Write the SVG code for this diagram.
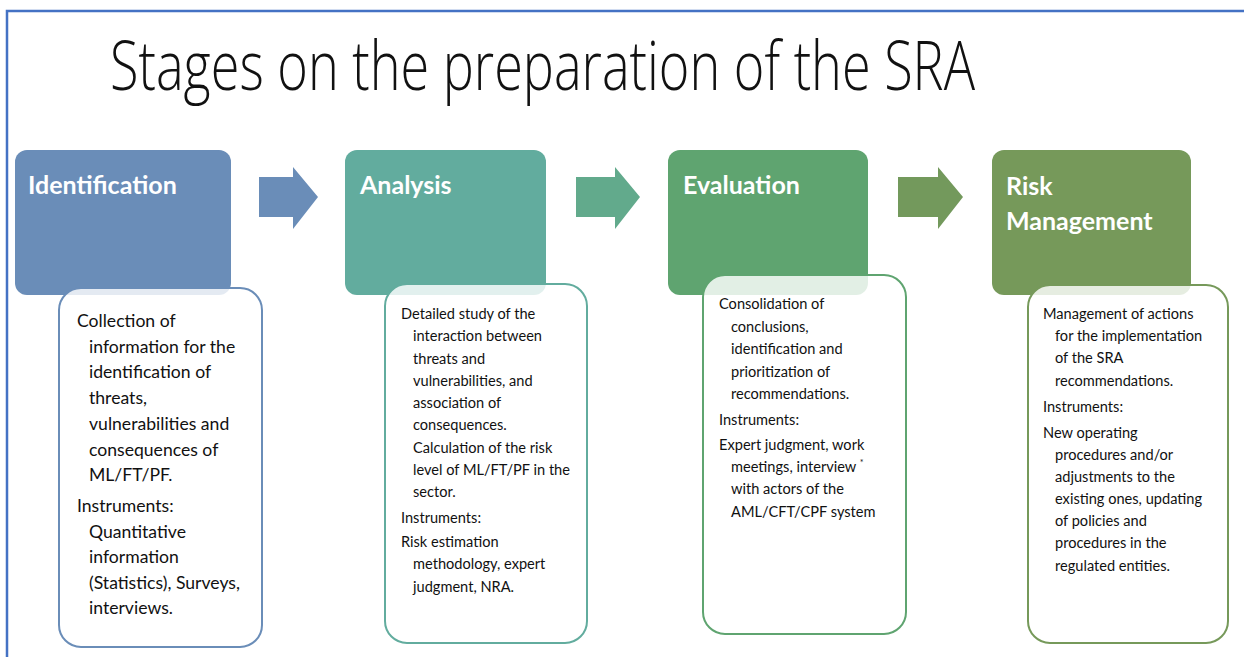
<svg xmlns="http://www.w3.org/2000/svg" width="1244" height="657" viewBox="0 0 1244 657">
  <style>
    .title { font-family: "Open Sans", "Liberation Sans", sans-serif; font-weight: 300; font-size: 68px; fill: #111; }
    .head { font-family: Lato, "Liberation Sans", sans-serif; font-weight: 700; font-size: 25px; fill: #ffffff; }
    .body { font-family: Lato, "Liberation Sans", sans-serif; font-size: 17.6px; fill: #111; }
    .small { font-family: Lato, "Liberation Sans", sans-serif; font-size: 14.6px; fill: #111; }
    .card { fill: #ffffff; fill-opacity: 0.82; stroke-width: 2; }
  </style>

  <!-- slide frame -->
  <path d="M7,657 V11 H1244" fill="none" stroke="#4472C4" stroke-width="2.5"/>

  <text class="title" x="110" y="90" textLength="865" lengthAdjust="spacingAndGlyphs">Stages on the preparation of the SRA</text>

  <!-- connectors between stages -->
  <g id="connectors">
    <path d="M259,177 H293 V167 L318,197 L293,229 V217 H259 Z" fill="#6A8DB8"/>
    <path d="M576,177 H615 V167 L640,197 L615,229 V217 H576 Z" fill="#62AA8C"/>
    <path d="M898,177 H938 V167 L963,197 L938,229 V217 H898 Z" fill="#73995C"/>
  </g>

  <!-- stage 1 -->
  <g id="identification">
    <rect x="15" y="150" width="216" height="145" rx="12" fill="#6A8DB8"/>
    <text class="head" x="28" y="194">Identification</text>
    <rect class="card" x="59" y="288" width="203" height="359" rx="22" stroke="#6A8DB8"/>
    <text class="body">
      <tspan x="77" y="327">Collection of</tspan>
      <tspan x="89" y="353">information for the</tspan>
      <tspan x="89" y="378">identification of</tspan>
      <tspan x="89" y="404">threats,</tspan>
      <tspan x="89" y="430">vulnerabilities and</tspan>
      <tspan x="89" y="456">consequences of</tspan>
      <tspan x="89" y="481">ML/FT/PF.</tspan>
      <tspan x="77" y="512">Instruments:</tspan>
      <tspan x="89" y="538">Quantitative</tspan>
      <tspan x="89" y="563">information</tspan>
      <tspan x="89" y="589">(Statistics), Surveys,</tspan>
      <tspan x="89" y="614">interviews.</tspan>
    </text>
  </g>

  <!-- stage 2 -->
  <g id="analysis">
    <rect x="345" y="150" width="201" height="145" rx="12" fill="#62AC9E"/>
    <text class="head" x="360" y="194">Analysis</text>
    <rect class="card" x="385" y="284" width="202" height="359" rx="22" stroke="#62AC9E"/>
    <text class="small">
      <tspan x="401" y="319">Detailed study of the</tspan>
      <tspan x="413" y="341">interaction between</tspan>
      <tspan x="413" y="364">threats and</tspan>
      <tspan x="413" y="386">vulnerabilities, and</tspan>
      <tspan x="413" y="408">association of</tspan>
      <tspan x="413" y="430">consequences.</tspan>
      <tspan x="413" y="453">Calculation of the risk</tspan>
      <tspan x="413" y="475">level of ML/FT/PF in the</tspan>
      <tspan x="413" y="497">sector.</tspan>
      <tspan x="401" y="523">Instruments:</tspan>
      <tspan x="401" y="547">Risk estimation</tspan>
      <tspan x="413" y="569">methodology, expert</tspan>
      <tspan x="413" y="592">judgment, NRA.</tspan>
    </text>
  </g>

  <!-- stage 3 -->
  <g id="evaluation">
    <rect x="668" y="150" width="200" height="145" rx="12" fill="#5FA470"/>
    <text class="head" x="683" y="194">Evaluation</text>
    <rect class="card" x="703" y="275" width="203" height="359" rx="22" stroke="#5FA470"/>
    <text class="small">
      <tspan x="719" y="309">Consolidation of</tspan>
      <tspan x="731" y="332">conclusions,</tspan>
      <tspan x="731" y="354">identification and</tspan>
      <tspan x="731" y="377">prioritization of</tspan>
      <tspan x="731" y="399">recommendations.</tspan>
      <tspan x="719" y="425">Instruments:</tspan>
      <tspan x="719" y="450">Expert judgment, work</tspan>
      <tspan x="731" y="472">meetings, interview <tspan dy="-6" font-size="9">*</tspan></tspan>
      <tspan x="731" y="494">with actors of the</tspan>
      <tspan x="731" y="517">AML/CFT/CPF system</tspan>
    </text>
  </g>

  <!-- stage 4 -->
  <g id="risk-management">
    <rect x="992" y="150" width="199" height="145" rx="12" fill="#76995A"/>
    <text class="head">
      <tspan x="1006" y="195">Risk</tspan>
      <tspan x="1006" y="230">Management</tspan>
    </text>
    <rect class="card" x="1028" y="285" width="200" height="358" rx="22" stroke="#76995A"/>
    <text class="small">
      <tspan x="1043" y="319">Management of actions</tspan>
      <tspan x="1055" y="341">for the implementation</tspan>
      <tspan x="1055" y="363">of the SRA</tspan>
      <tspan x="1055" y="386">recommendations.</tspan>
      <tspan x="1043" y="412">Instruments:</tspan>
      <tspan x="1043" y="438">New operating</tspan>
      <tspan x="1055" y="460">procedures and/or</tspan>
      <tspan x="1055" y="482">adjustments to the</tspan>
      <tspan x="1055" y="504">existing ones, updating</tspan>
      <tspan x="1055" y="526">of policies and</tspan>
      <tspan x="1055" y="548">procedures in the</tspan>
      <tspan x="1055" y="571">regulated entities.</tspan>
    </text>
  </g>
</svg>
